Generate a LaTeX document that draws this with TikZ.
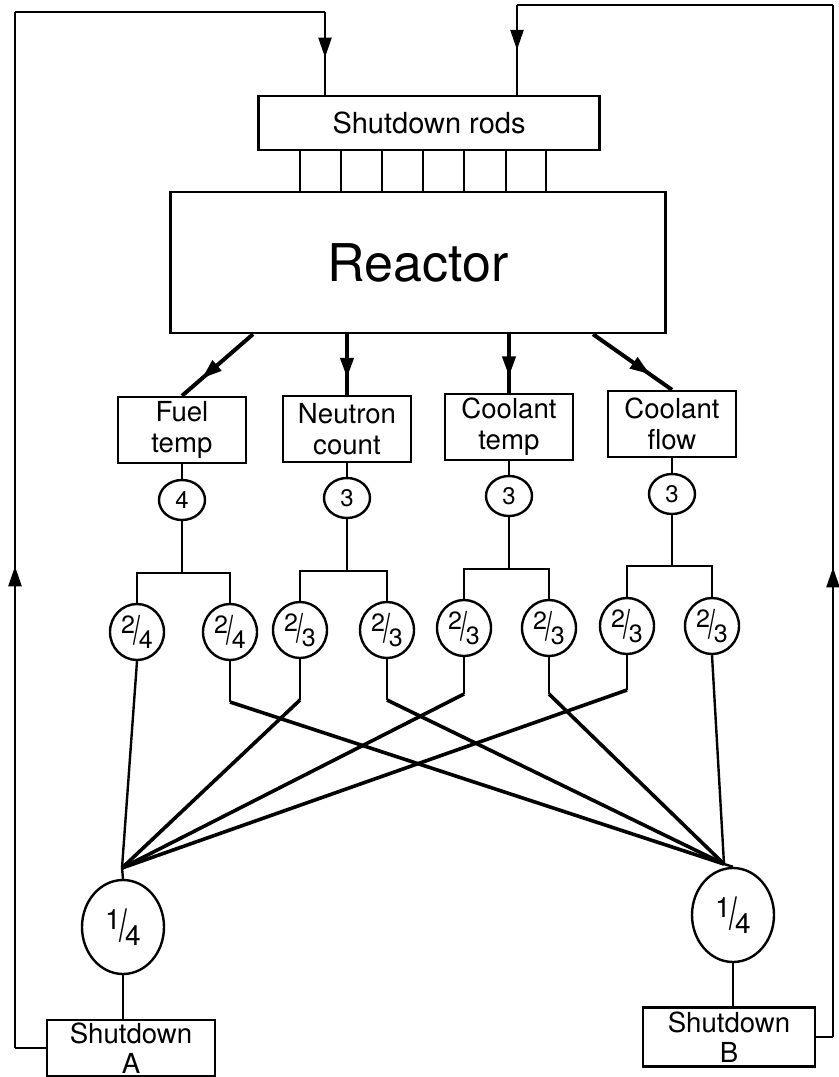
\documentclass[tikz,border=0pt]{standalone}
\usepackage{fontspec}
\setmainfont{TeX Gyre Heros}
\usepackage{graphicx}
\usetikzlibrary{arrows.meta,shapes.geometric,decorations.markings}

% fraccion inclinada para los votadores
\newcommand\slfrac[2]{\raisebox{.5ex}{#1}\kern-.06em\raisebox{-.35ex}{\scalebox{1}[1.6]{/}}\kern-.06em\raisebox{-.6ex}{#2}}

\begin{document}
\begin{tikzpicture}[x=0.5pt,y=-0.5pt,
    caja/.style={draw, line width=1.2pt, inner sep=0pt, align=center},
    sens/.style={caja, minimum width=64pt, minimum height=33pt, font=\fontsize{13.8}{15.5}\selectfont},
    cnt/.style={draw, ellipse, line width=1.2pt, inner sep=0pt, minimum width=23pt, minimum height=20pt, font=\fontsize{12}{12}\selectfont},
    vot/.style={draw, ellipse, line width=1.2pt, inner sep=0pt, minimum width=27pt, minimum height=28pt, font=\fontsize{12.5}{12}\selectfont},
    uno/.style={draw, ellipse, line width=1.2pt, inner sep=0pt, minimum width=41pt, minimum height=47pt, font=\fontsize{14}{14}\selectfont},
    linea/.style={line width=1.2pt},
    gruesa/.style={line width=1.8pt},
    marca/.style={postaction={decorate}, decoration={markings, mark=at position #1 with {\arrow{Triangle[length=10pt,width=6.5pt]}}}},
  ]
  \useasboundingbox (0,0) rectangle (839,1077);

  % barras y reactor
  \node[caja, minimum width=170.5pt, minimum height=27pt, font=\fontsize{14.5}{16}\selectfont] (rods) at (429,123) {Shutdown rods};
  \node[caja, minimum width=247.5pt, minimum height=70.5pt, font=\fontsize{26}{28}\selectfont] (reactor) at (418,262.5) {Reactor};
  \foreach \x in {300,341,382,423,464,506,546}
    \draw[linea] (rods.south -| \x,0) -- (reactor.north -| \x,0);

  % sensores
  \node[sens] (fuel) at (182,430) {Fuel\\temp};
  \node[sens] (neut) at (347,429) {Neutron\\count};
  \node[sens] (ctemp) at (509,427) {Coolant\\temp};
  \node[sens] (cflow) at (672,424) {Coolant\\flow};
  \draw[gruesa, line width=2pt, marca=.72] (reactor.south -| 253,0) -- (fuel.north);
  \draw[gruesa, line width=2pt, marca=.72] (reactor.south -| neut.north) -- (neut.north);
  \draw[gruesa, line width=2pt, marca=.72] (reactor.south -| ctemp.north) -- (ctemp.north);
  \draw[gruesa, line width=2pt, marca=.72] (reactor.south -| 593,0) -- (cflow.north);

  % canales
  \node[cnt] (k1) at (182,500) {4};
  \node[cnt] (k2) at (347,498) {3};
  \node[cnt] (k3) at (509,496) {3};
  \node[cnt] (k4) at (672,494) {3};

  % votadores 2 de n
  \node[vot] (v1a) at (137,632) {\slfrac{2}{4}};
  \node[vot] (v1b) at (230,632) {\slfrac{2}{4}};
  \node[vot] (v2a) at (300,630) {\slfrac{2}{3}};
  \node[vot] (v2b) at (387,630) {\slfrac{2}{3}};
  \node[vot] (v3a) at (464,628) {\slfrac{2}{3}};
  \node[vot] (v3b) at (549,628) {\slfrac{2}{3}};
  \node[vot] (v4a) at (627,626) {\slfrac{2}{3}};
  \node[vot] (v4b) at (712,626) {\slfrac{2}{3}};

  \foreach \s/\k/\a/\b/\y in {fuel/k1/v1a/v1b/573, neut/k2/v2a/v2b/571, ctemp/k3/v3a/v3b/569, cflow/k4/v4a/v4b/566}{
    \draw[linea] (\s.south) -- (\k.north);
    \draw[linea] (\k.south) -- (\k.south |- 0,\y);
    \draw[linea] (\a.north) |- (\k.south |- 0,\y) -| (\b.north);
  }

  % cruce hacia los dos trenes
  \coordinate (jA) at (122,868);
  \coordinate (jB) at (724,864);
  \draw[linea] (v1a.south) -- (jA);
  \draw[linea] (v4b.south) -- (jB);
  \foreach \v/\yy/\j in {v1b/702/jB, v2a/700/jA, v2b/700/jB, v3a/694/jA, v3b/694/jB, v4a/690/jA}{
    \draw[linea] (\v.south) -- (\v.south |- 0,\yy);
    \draw[gruesa] (\v.south |- 0,\yy) -- (\j);
  }

  % votadores 1 de 4 y disparo
  \node[uno] (uA) at (123,927) {\slfrac{1}{4}};
  \node[uno] (uB) at (733,915) {\slfrac{1}{4}};
  \node[caja, minimum width=84pt, minimum height=28pt, font=\fontsize{13.8}{15}\selectfont] (shA) at (131,1048) {Shutdown\\A};
  \node[caja, minimum width=86pt, minimum height=29.5pt, font=\fontsize{13.8}{15}\selectfont] (shB) at (729,1037) {Shutdown\\B};
  \draw[linea] (jA) -- (uA.north);
  \draw[linea] (jB) -- (uB.north);
  \draw[linea] (uA.south) -- (uA.south |- shA.north);
  \draw[linea] (uB.south) -- (uB.south |- shB.north);

  % lazo izquierdo
  \draw[linea] (shA.west) -- (shA.west -| 15,0) coordinate (a1);
  \draw[linea, marca=.465] (a1) -- (15,12) coordinate (a2);
  \draw[linea] (a2) -- (325,12) coordinate (a3);
  \draw[linea, marca=.55] (a3) -- (a3 |- rods.north);

  % lazo derecho
  \draw[linea] (shB.east) -- (shB.east -| 833,0) coordinate (b1);
  \draw[linea, marca=.455] (b1) -- (833,5) coordinate (b2);
  \draw[linea] (b2) -- (517,5) coordinate (b3);
  \draw[linea, marca=.5] (b3) -- (b3 |- rods.north);
\end{tikzpicture}
\end{document}
